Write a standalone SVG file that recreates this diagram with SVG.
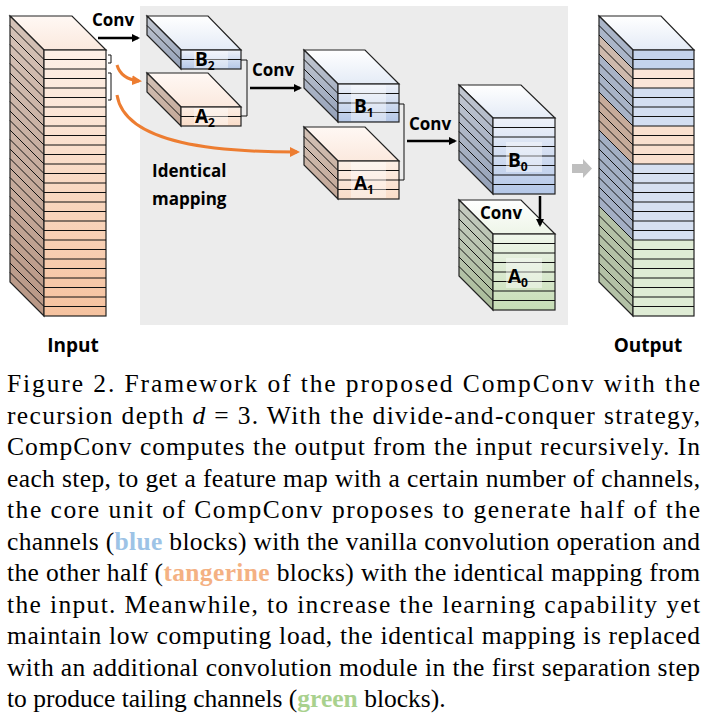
<svg xmlns="http://www.w3.org/2000/svg" width="711" height="725" viewBox="0 0 711 725">
<defs>
<linearGradient id="gIn" x1="0" y1="0" x2="0" y2="1"><stop offset="0" stop-color="#fdf0e7"/><stop offset="1" stop-color="#f5c29f"/></linearGradient>
<linearGradient id="gInS" x1="0" y1="0" x2="0" y2="1"><stop offset="0" stop-color="#d5c3b8"/><stop offset="1" stop-color="#b89684"/></linearGradient>
<linearGradient id="gTopT" x1="0" y1="0" x2="0" y2="1"><stop offset="0" stop-color="#fff8f4"/><stop offset="1" stop-color="#fbe9de"/></linearGradient>
<linearGradient id="gTopB" x1="0" y1="0" x2="0" y2="1"><stop offset="0" stop-color="#ffffff"/><stop offset="1" stop-color="#e4ebf6"/></linearGradient>
<linearGradient id="gTopG" x1="0" y1="0" x2="0" y2="1"><stop offset="0" stop-color="#ffffff"/><stop offset="1" stop-color="#eef5e8"/></linearGradient>
<linearGradient id="gB" x1="0" y1="0" x2="0" y2="1"><stop offset="0" stop-color="#eef2fa"/><stop offset="1" stop-color="#b4c7e7"/></linearGradient>
<linearGradient id="gT" x1="0" y1="0" x2="0" y2="1"><stop offset="0" stop-color="#fcefe6"/><stop offset="1" stop-color="#f9dcc8"/></linearGradient>
<linearGradient id="gG" x1="0" y1="0" x2="0" y2="1"><stop offset="0" stop-color="#f0f7ec"/><stop offset="1" stop-color="#c5dcb4"/></linearGradient>
<linearGradient id="gBS" x1="0" y1="0" x2="0" y2="1"><stop offset="0" stop-color="#c3c8d1"/><stop offset="1" stop-color="#93a0b8"/></linearGradient>
<linearGradient id="gTS" x1="0" y1="0" x2="0" y2="1"><stop offset="0" stop-color="#d3c2b7"/><stop offset="1" stop-color="#c2a696"/></linearGradient>
<linearGradient id="gGS" x1="0" y1="0" x2="0" y2="1"><stop offset="0" stop-color="#c6cbc2"/><stop offset="1" stop-color="#a9bc98"/></linearGradient>
<marker id="ab" markerWidth="8" markerHeight="8" refX="6" refY="4" orient="auto" markerUnits="userSpaceOnUse"><path d="M0,0 L8,4 L0,8 z" fill="#000"/></marker>
<marker id="ao" markerWidth="10" markerHeight="10" refX="7" refY="5" orient="auto" markerUnits="userSpaceOnUse"><path d="M0,0 L10,5 L0,10 z" fill="#ed7d31"/></marker>
</defs>
<style>
.e{stroke:#222;stroke-width:1.2}
.l{stroke:#111;stroke-width:1;fill:none}
.lbl{font-family:"Open Sans","Liberation Sans",sans-serif;font-weight:bold;font-size:19px;fill:#000}
.cv{font-family:"Open Sans","Liberation Sans",sans-serif;font-weight:bold;font-size:17px;fill:#000}
.cap{font-family:"Liberation Serif","Times New Roman",serif;font-size:25.5px;fill:#000}
.sub{font-size:12px}
.lb{fill:#fff;opacity:0.4}
</style>
<rect x="140" y="6" width="428" height="319" fill="#ececec"/>

<g id="input">
<polygon points="10,16 72,16 106,50 44,50" fill="url(#gTopT)" class="e"/>
<polygon points="10,16 44,50 44,316 10,282" fill="url(#gInS)" class="e"/>
<rect x="44" y="50" width="62" height="266" fill="url(#gIn)" class="e"/>
<path class="l" d="M44,59.5h62M44,69h62M44,78.5h62M44,88h62M44,97.5h62M44,107h62M44,116.5h62M44,126h62M44,135.5h62M44,145h62M44,154.5h62M44,164h62M44,173.5h62M44,183h62M44,192.5h62M44,202h62M44,211.5h62M44,221h62M44,230.5h62M44,240h62M44,249.5h62M44,259h62M44,268.5h62M44,278h62M44,287.5h62M44,297h62M44,306.5h62"/>
<path class="l" d="M44,59.5l-34,-34M44,69l-34,-34M44,78.5l-34,-34M44,88l-34,-34M44,97.5l-34,-34M44,107l-34,-34M44,116.5l-34,-34M44,126l-34,-34M44,135.5l-34,-34M44,145l-34,-34M44,154.5l-34,-34M44,164l-34,-34M44,173.5l-34,-34M44,183l-34,-34M44,192.5l-34,-34M44,202l-34,-34M44,211.5l-34,-34M44,221l-34,-34M44,230.5l-34,-34M44,240l-34,-34M44,249.5l-34,-34M44,259l-34,-34M44,268.5l-34,-34M44,278l-34,-34M44,287.5l-34,-34M44,297l-34,-34M44,306.5l-34,-34"/>
<path class="l" d="M108,55h3v8h-3M108,73h3v27h-3"/>
<text class="lbl" x="73" y="352" text-anchor="middle">Input</text>
</g>

<g id="B2">
<polygon points="147,16 208,16 241,50 181,50" fill="url(#gTopB)" class="e"/>
<polygon points="147,16 181,50 181,69 147,35" fill="url(#gBS)" class="e"/>
<rect x="181" y="50" width="60" height="19" fill="url(#gB)" class="e"/>
<path class="l" d="M181,59.5h60M181,59.5l-34,-34"/>
<rect class="lb" x="194" y="51" width="34" height="17"/>
<text class="lbl" x="195" y="66">B<tspan class="sub" dy="4">2</tspan></text>
</g>
<g id="A2">
<polygon points="147,73 208,73 241,107 181,107" fill="url(#gTopT)" class="e"/>
<polygon points="147,73 181,107 181,126 147,92" fill="url(#gTS)" class="e"/>
<rect x="181" y="107" width="60" height="19" fill="url(#gT)" class="e"/>
<path class="l" d="M181,116.5h60M181,116.5l-34,-34"/>
<rect class="lb" x="194" y="108" width="34" height="17"/>
<text class="lbl" x="195" y="123">A<tspan class="sub" dy="4">2</tspan></text>
</g>

<g id="B1">
<polygon points="304,50 365,50 399,84 338,84" fill="url(#gTopB)" class="e"/>
<polygon points="304,50 338,84 338,122 304,88" fill="url(#gBS)" class="e"/>
<rect x="338" y="84" width="61" height="38" fill="url(#gB)" class="e"/>
<path class="l" d="M338,93.5h61M338,103h61M338,112.5h61M338,93.5l-34,-34M338,103l-34,-34M338,112.5l-34,-34"/>
<rect class="lb" x="351" y="85" width="35" height="36"/>
<text class="lbl" x="354" y="113">B<tspan class="sub" dy="4">1</tspan></text>
</g>
<g id="A1">
<polygon points="304,127 365,127 399,161 338,161" fill="url(#gTopT)" class="e"/>
<polygon points="304,127 338,161 338,199 304,165" fill="url(#gTS)" class="e"/>
<rect x="338" y="161" width="61" height="38" fill="url(#gT)" class="e"/>
<path class="l" d="M338,170.5h61M338,180h61M338,189.5h61M338,170.5l-34,-34M338,180l-34,-34M338,189.5l-34,-34"/>
<rect class="lb" x="351" y="162" width="35" height="36"/>
<text class="lbl" x="354" y="190">A<tspan class="sub" dy="4">1</tspan></text>
</g>

<g id="B0">
<polygon points="459,85 521,85 555,118 493,118" fill="url(#gTopB)" class="e"/>
<polygon points="459,85 493,118 493,194 459,160" fill="url(#gBS)" class="e"/>
<rect x="493" y="118" width="62" height="76" fill="url(#gB)" class="e"/>
<path class="l" d="M493,127.5h62M493,137h62M493,146.5h62M493,156h62M493,165.5h62M493,175h62M493,184.5h62"/>
<path class="l" d="M493,127.5l-34,-34M493,137l-34,-34M493,146.5l-34,-34M493,156l-34,-34M493,165.5l-34,-34M493,175l-34,-34M493,184.5l-34,-34"/>
<rect class="lb" x="506" y="142" width="36" height="30"/>
<text class="lbl" x="508" y="167">B<tspan class="sub" dy="4">0</tspan></text>
</g>
<g id="A0">
<polygon points="459,200 521,200 555,234 493,234" fill="url(#gTopG)" class="e"/>
<polygon points="459,200 493,234 493,310 459,276" fill="url(#gGS)" class="e"/>
<rect x="493" y="234" width="62" height="76" fill="url(#gG)" class="e"/>
<path class="l" d="M493,243.5h62M493,253h62M493,262.5h62M493,272h62M493,281.5h62M493,291h62M493,300.5h62"/>
<path class="l" d="M493,243.5l-34,-34M493,253l-34,-34M493,262.5l-34,-34M493,272l-34,-34M493,281.5l-34,-34M493,291l-34,-34M493,300.5l-34,-34"/>
<rect class="lb" x="506" y="258" width="36" height="30"/>
<text class="lbl" x="508" y="283">A<tspan class="sub" dy="4">0</tspan></text>
</g>

<g id="output">
<polygon points="599,16 661,16 694,50 633,50" fill="url(#gTopB)" class="e"/>
<polygon points="599,16 633,50 633,69 599,35" fill="#aab5c8"/>
<polygon points="599,35 633,69 633,88 599,54" fill="#cdb9ac"/>
<polygon points="599,54 633,88 633,126 599,92" fill="#a8b3c6"/>
<polygon points="599,92 633,126 633,164 599,130" fill="#c6ab9a"/>
<polygon points="599,130 633,164 633,240 599,206" fill="#a3afc4"/>
<polygon points="599,206 633,240 633,316 599,282" fill="#b3c1a6"/>
<polygon points="599,16 633,50 633,316 599,282" class="e" fill="none"/>
<rect x="633" y="50" width="61" height="19" fill="#c4d3ec"/>
<rect x="633" y="69" width="61" height="19" fill="#fbe6d9"/>
<rect x="633" y="88" width="61" height="38" fill="#d3def1"/>
<rect x="633" y="126" width="61" height="38" fill="#f9e0cf"/>
<rect x="633" y="164" width="61" height="76" fill="#d6e0f1"/>
<rect x="633" y="240" width="61" height="76" fill="#dfecd5"/>
<rect x="633" y="50" width="61" height="266" class="e" fill="none"/>
<path class="l" d="M633,59.5h61M633,69h61M633,78.5h61M633,88h61M633,97.5h61M633,107h61M633,116.5h61M633,126h61M633,135.5h61M633,145h61M633,154.5h61M633,164h61M633,173.5h61M633,183h61M633,192.5h61M633,202h61M633,211.5h61M633,221h61M633,230.5h61M633,240h61M633,249.5h61M633,259h61M633,268.5h61M633,278h61M633,287.5h61M633,297h61M633,306.5h61"/>
<path class="l" d="M633,59.5l-34,-34M633,69l-34,-34M633,78.5l-34,-34M633,88l-34,-34M633,97.5l-34,-34M633,107l-34,-34M633,116.5l-34,-34M633,126l-34,-34M633,135.5l-34,-34M633,145l-34,-34M633,154.5l-34,-34M633,164l-34,-34M633,173.5l-34,-34M633,183l-34,-34M633,192.5l-34,-34M633,202l-34,-34M633,211.5l-34,-34M633,221l-34,-34M633,230.5l-34,-34M633,240l-34,-34M633,249.5l-34,-34M633,259l-34,-34M633,268.5l-34,-34M633,278l-34,-34M633,287.5l-34,-34M633,297l-34,-34M633,306.5l-34,-34"/>
<text class="lbl" x="648" y="352" text-anchor="middle">Output</text>
</g>

<g id="connectors">
<path d="M98,38 H138" stroke="#000" stroke-width="2.5" marker-end="url(#ab)"/>
<path d="M241,60 h6 v56 h-6" class="l"/>
<path d="M250,88 H300" stroke="#000" stroke-width="2.5" marker-end="url(#ab)"/>
<path d="M399,104 h5 v76 h-5" class="l"/>
<path d="M407,141 H455" stroke="#000" stroke-width="2.5" marker-end="url(#ab)"/>
<path d="M540,196 V225" stroke="#000" stroke-width="2.5" marker-end="url(#ab)"/>
<path d="M117,65 Q121,79 139,81" stroke="#ed7d31" stroke-width="3" fill="none" marker-end="url(#ao)"/>
<path d="M117,95 C125,145 220,152 297,152" stroke="#ed7d31" stroke-width="3" fill="none" marker-end="url(#ao)"/>
<polygon points="572,164 583,164 583,159 592,168.5 583,178 583,173 572,173" fill="#bfbfbf"/>
</g>
<text class="cv" x="92" y="26">Conv</text>
<text class="cv" x="252" y="76">Conv</text>
<text class="cv" x="409" y="130">Conv</text>
<text class="cv" x="480" y="219">Conv</text>
<text class="cv" x="152" y="177">Identical</text>
<text class="cv" x="152" y="205">mapping</text>

<g id="caption" class="cap" xml:space="preserve">
<text x="7" y="392" textLength="693" lengthAdjust="spacing">Figure 2.   Framework of the proposed CompConv with the</text>
<text x="7" y="423.5" textLength="693" lengthAdjust="spacing">recursion depth <tspan font-style="italic">d</tspan> = 3.  With the divide-and-conquer strategy,</text>
<text x="7" y="455" textLength="693" lengthAdjust="spacing">CompConv computes the output from the input recursively.  In</text>
<text x="7" y="486.5" textLength="693" lengthAdjust="spacing">each step, to get a feature map with a certain number of channels,</text>
<text x="7" y="518" textLength="693" lengthAdjust="spacing">the core unit of CompConv proposes to generate half of the</text>
<text x="7" y="549.5" textLength="693" lengthAdjust="spacing">channels (<tspan font-weight="bold" fill="#9dc3e6">blue</tspan> blocks) with the vanilla convolution operation and</text>
<text x="7" y="581" textLength="693" lengthAdjust="spacing">the other half (<tspan font-weight="bold" fill="#f4b183">tangerine</tspan> blocks) with the identical mapping from</text>
<text x="7" y="612.5" textLength="693" lengthAdjust="spacing">the input.  Meanwhile, to increase the learning capability yet</text>
<text x="7" y="644" textLength="693" lengthAdjust="spacing">maintain low computing load, the identical mapping is replaced</text>
<text x="7" y="675.5" textLength="693" lengthAdjust="spacing">with an additional convolution module in the first separation step</text>
<text x="7" y="707">to produce tailing channels (<tspan font-weight="bold" fill="#a9d18e">green</tspan> blocks).</text>
</g>
</svg>
